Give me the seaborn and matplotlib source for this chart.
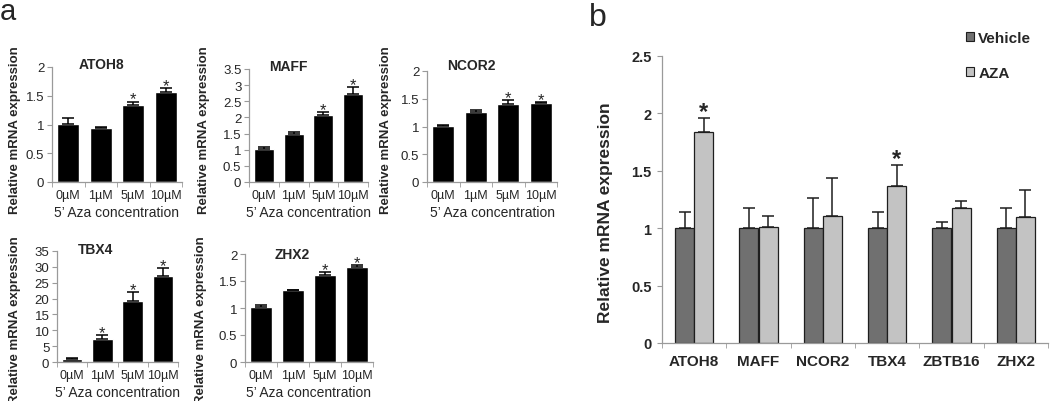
import numpy as np
import pandas as pd
import matplotlib
matplotlib.use("Agg")
import matplotlib.pyplot as plt
from matplotlib.patches import Patch
from matplotlib.ticker import MultipleLocator, FuncFormatter
import seaborn as sns

# ---------------- data ----------------
conc_labels = ["0µM", "1µM", "5µM", "10µM"]

atoh8_mean = [1.01, 0.94, 1.34, 1.56]
atoh8_err = [0.10, 0.02, 0.06, 0.07]
atoh8_sig = [False, False, True, True]

maff_mean = [1.02, 1.50, 2.07, 2.73]
maff_err = [0.05, 0.06, 0.11, 0.21]
maff_sig = [False, False, True, True]

ncor2_mean = [1.01, 1.26, 1.41, 1.43]
ncor2_err = [0.02, 0.03, 0.06, 0.01]
ncor2_sig = [False, False, True, True]

tbx4_mean = [1.0, 7.2, 19.2, 27.2]
tbx4_err = [0.15, 1.3, 3.0, 2.5]
tbx4_sig = [False, True, True, True]

zhx2_mean = [1.01, 1.33, 1.62, 1.76]
zhx2_err = [0.05, 0.01, 0.05, 0.04]
zhx2_sig = [False, False, True, True]

genes_b = ["ATOH8", "MAFF", "NCOR2", "TBX4", "ZBTB16", "ZHX2"]
treatments = ["Vehicle", "AZA"]
vehicle_mean = [1.0, 1.0, 1.0, 1.0, 1.0, 1.0]
vehicle_err = [0.14, 0.18, 0.26, 0.14, 0.05, 0.18]
aza_mean = [1.84, 1.01, 1.11, 1.37, 1.18, 1.10]
aza_err = [0.12, 0.10, 0.33, 0.18, 0.06, 0.23]
aza_sig = [True, False, False, True, False, False]
vehicle_sig = [False] * 6

# ---------------- style ----------------
sns.set_style("white")
plt.rcParams["font.family"] = ["Liberation Sans", "DejaVu Sans"]

W, H = 1050, 402
fig = plt.figure(figsize=(W / 100, H / 100), dpi=100)
SPINE = "#9a9a9a"


def rect(x0, x1, ytop, ybot):
    return [x0 / W, 1 - ybot / H, (x1 - x0) / W, (ybot - ytop) / H]


fmt = FuncFormatter(lambda v, p: f"{v:g}")


def style_axes(ax, n, ymax, ystep, xtick_fs, ytick_fs, bold=False, xpad=6):
    for s in ("top", "right"):
        ax.spines[s].set_visible(False)
    for s in ("left", "bottom"):
        ax.spines[s].set_color(SPINE)
        ax.spines[s].set_linewidth(0.9)
    ax.set_ylim(0, ymax)
    ax.yaxis.set_major_locator(MultipleLocator(ystep))
    ax.yaxis.set_major_formatter(fmt)
    ax.set_xlim(-0.5, n - 0.5)
    ax.set_xticks(np.arange(-0.5, n), minor=True)
    ax.tick_params(axis="x", which="major", length=0, pad=xpad, labelsize=xtick_fs)
    ax.tick_params(axis="x", which="minor", length=3.5, color=SPINE, direction="out", bottom=True)
    ax.tick_params(axis="y", which="major", length=3.5, color=SPINE, direction="out",
                   left=True, labelsize=ytick_fs, pad=2)
    if bold:
        for lab in ax.get_xticklabels() + ax.get_yticklabels():
            lab.set_fontweight("bold")


def small_panel(box, title, mean, err, sig, ymax, ystep, title_xy, ylab_off, ylab_cy):
    ax = fig.add_axes(rect(*box))
    df = pd.DataFrame({"conc": conc_labels, "expr": mean})
    sns.barplot(data=df, x="conc", y="expr", color="black", width=0.68,
                errorbar=None, saturation=1, ax=ax)
    xs = [p.get_x() + p.get_width() / 2 for p in ax.patches]
    ax.errorbar(xs, mean, yerr=[np.zeros(len(mean)), err], fmt="none",
                ecolor="black", elinewidth=1.1, capsize=4, capthick=1.1)
    for x, m, e, s in zip(xs, mean, err, sig):
        if s:
            ax.annotate("*", (x, m + e), xytext=(0, -1.5), textcoords="offset points",
                        ha="center", va="baseline", fontsize=12)
    style_axes(ax, len(mean), ymax, ystep, 9, 9.5, xpad=5)
    ax.set_xlabel("5’ Aza concentration", fontsize=10, labelpad=3)
    ax.set_ylabel("Relative mRNA expression", fontsize=9.5, fontweight="bold")
    x0, x1, ytop, ybot = box
    ax.yaxis.set_label_coords(-ylab_off / (x1 - x0), (ybot - ylab_cy) / (ybot - ytop))
    ax.text(title_xy[0], title_xy[1], title, transform=ax.transAxes, ha="center",
            va="center", fontsize=10, fontweight="bold")
    return ax


small_panel((52, 182, 68, 183), "ATOH8", atoh8_mean, atoh8_err, atoh8_sig, 2, 0.5,
            (0.38, 1.03), 31, 130)
small_panel((249, 368, 70, 183), "MAFF", maff_mean, maff_err, maff_sig, 3.5, 0.5,
            (0.33, 1.03), 39, 130)
small_panel((427, 557, 72, 183), "NCOR2", ncor2_mean, ncor2_err, ncor2_sig, 2, 0.5,
            (0.34, 1.05), 35, 130)
small_panel((57, 178, 252, 363), "TBX4", tbx4_mean, tbx4_err, tbx4_sig, 35, 5,
            (0.32, 1.02), 36, 320)
small_panel((245, 373, 255, 363), "ZHX2", zhx2_mean, zhx2_err, zhx2_sig, 2, 0.5,
            (0.37, 1.0), 38, 320)

# ---------------- panel b ----------------
boxb = (662, 1048, 57, 344)
axb = fig.add_axes(rect(*boxb))
dfb = pd.DataFrame({
    "gene": genes_b * 2,
    "treatment": [treatments[0]] * len(genes_b) + [treatments[1]] * len(genes_b),
    "value": vehicle_mean + aza_mean,
})
palette = {"Vehicle": "#707070", "AZA": "#c3c3c3"}
sns.barplot(data=dfb, x="gene", y="value", hue="treatment", hue_order=treatments,
            palette=palette, width=0.6, gap=0.03, errorbar=None, saturation=1,
            edgecolor="#1e1e1e", linewidth=0.9, legend=False, ax=axb)
for cont, mean, err, sig in zip(axb.containers, [vehicle_mean, aza_mean],
                                [vehicle_err, aza_err], [vehicle_sig, aza_sig]):
    xs = [p.get_x() + p.get_width() / 2 for p in cont.patches]
    axb.errorbar(xs, mean, yerr=[np.zeros(len(mean)), err], fmt="none",
                 ecolor="#1e1e1e", elinewidth=1.1, capsize=4, capthick=1.1)
    for x, m, e, s in zip(xs, mean, err, sig):
        if s:
            axb.annotate("*", (x, m + e), xytext=(0, 0), textcoords="offset points",
                         ha="center", va="baseline", fontsize=17, fontweight="bold")
style_axes(axb, len(genes_b), 2.5, 0.5, 11, 10.5, bold=True, xpad=8)
axb.tick_params(axis="y", pad=4)
axb.set_xlabel("")
axb.set_ylabel("Relative mRNA expression", fontsize=12.5, fontweight="bold")
axb.yaxis.set_label_coords(-49 / (boxb[1] - boxb[0]), (344 - 213) / (344 - 57))

handles = [Patch(facecolor=palette[t], edgecolor="#1e1e1e", linewidth=0.8, label=t)
           for t in treatments]
fig.legend(handles=handles, loc="upper left", bbox_to_anchor=(966 / W, 1 - 32 / H),
           frameon=False, handlelength=0.55, handleheight=0.55, handletextpad=0.25,
           labelspacing=1.35, borderpad=0, borderaxespad=0,
           prop={"weight": "bold", "size": 11})

fig.text(0 / W, 1 - 20 / H, "a", fontsize=21, va="baseline", ha="left")
fig.text(589 / W, 1 - 26 / H, "b", fontsize=23, va="baseline", ha="left")

fig.savefig("out.png", dpi=100)
